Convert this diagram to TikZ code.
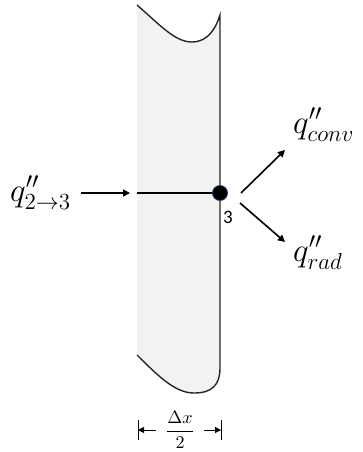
\documentclass[tikz,border=0pt]{standalone}
\usepackage{fontspec}
\usepackage{graphicx}
\newfontfamily\carl{Carlito}
\usetikzlibrary{arrows.meta}
\definecolor{slabfill}{HTML}{F2F2F2}
\definecolor{edgecol}{HTML}{262626}
\definecolor{nodering}{HTML}{1F3864}
\newcommand{\bigq}[1]{\scalebox{1.6}{\huge$#1$}}
\tikzset{
  edgeline/.style={draw=edgecol,line width=1.4pt},
  flux/.style={line width=1.6pt,-{Triangle[length=7pt,width=7pt]}},
  qlabel/.style={inner sep=0pt,anchor=base west},
  dimarrow/.style={line width=0.9pt,-{Triangle[length=6pt,width=6pt]}},
}
\begin{document}
\begin{tikzpicture}[x=1pt,y=-1pt]
\useasboundingbox (0,0) rectangle (363,452);
% slab
\fill[slabfill] (137,5) .. controls (160,25) and (175,42) .. (192,42)
  .. controls (208,42) and (216,28) .. (220,15)
  -- (220,368) .. controls (220,385) and (212,393) .. (194,393)
  .. controls (176,393) and (160,378) .. (137,355) -- cycle;
\draw[edgeline] (137,5) .. controls (160,25) and (175,42) .. (192,42)
  .. controls (208,42) and (216,28) .. (220,15) -- (220,368)
  .. controls (220,385) and (212,393) .. (194,393)
  .. controls (176,393) and (160,378) .. (137,355);
% node 3
\coordinate (lft) at (137,193);
\node[circle,fill=black,draw=nodering,line width=0.8pt,minimum size=15pt,inner sep=0pt] (n3) at (220,193) {};
\draw[line width=1.6pt] (lft) -- (n3);
\node[font=\carl\fontsize{19}{21}\selectfont,inner sep=0pt] (lab3) at (228,217) {3};
% incoming flux
\node[qlabel] (qin) at (10,201) {\bigq{q''_{2\to3}}};
\coordinate (ina) at (81,193);
\coordinate (inb) at (130,193);
\draw[flux] (ina) -- (inb);
% outgoing fluxes
\coordinate (ca) at (241,193);
\coordinate (cb) at (285,150);
\draw[flux] (ca) -- (cb);
\node[qlabel] (qconv) at (293,133) {\bigq{q''_{conv}}};
\coordinate (ra) at (240,203);
\coordinate (rb) at (285,242);
\draw[flux] (ra) -- (rb);
\node[qlabel] (qrad) at (293,261) {\bigq{q''_{rad}}};
% dimension
\coordinate (lt1) at (138,420); \coordinate (lt2) at (138,440);
\coordinate (rt1) at (221,420); \coordinate (rt2) at (221,440);
\draw[line width=0.9pt] (lt1) -- (lt2);
\draw[line width=0.9pt] (rt1) -- (rt2);
\coordinate (lt) at (138,430); \coordinate (rt) at (221,430);
\node[inner ysep=0pt,inner xsep=9pt] (dx) at (180,430) {\scalebox{1.8}{$\displaystyle\frac{\Delta x}{2}$}};
\draw[dimarrow] (dx.west) -- (lt);
\draw[dimarrow] (dx.east) -- (rt);
\end{tikzpicture}
\end{document}
